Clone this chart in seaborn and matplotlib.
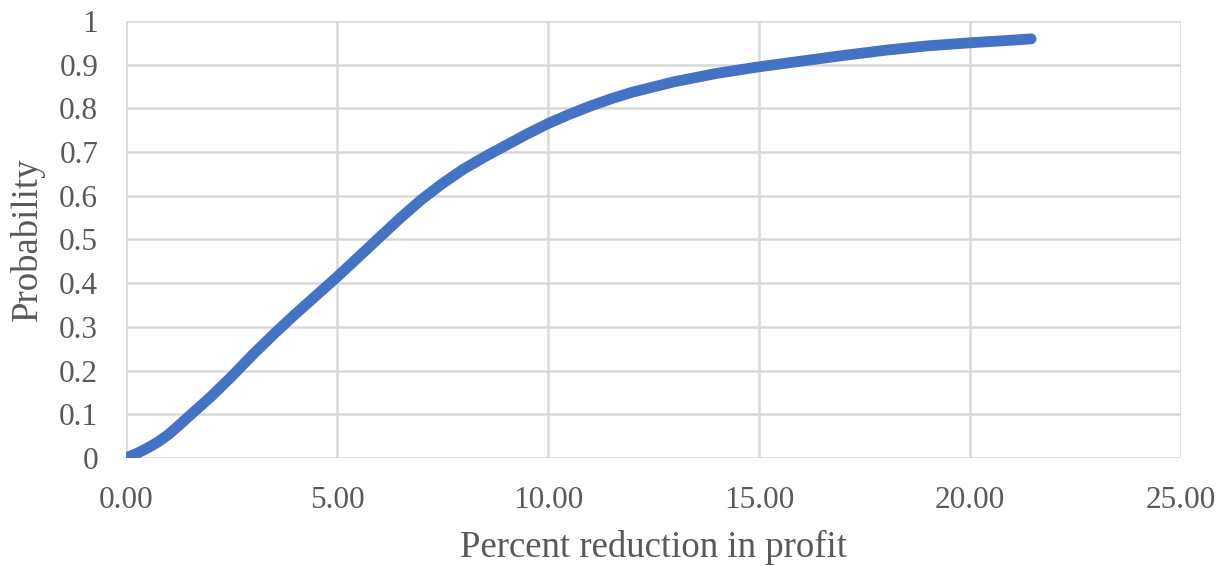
import numpy as np
import pandas as pd
import matplotlib
matplotlib.use("Agg")
import matplotlib.pyplot as plt
import seaborn as sns
from matplotlib.ticker import FuncFormatter

# Courbe de probabilité cumulée
reduction = [0.0, 0.25, 0.5, 0.75, 1.0, 1.25, 1.5, 2.0, 2.5, 3.0, 3.5, 4.0,
             4.5, 5.0, 5.5, 6.0, 6.5, 7.0, 7.5, 8.0, 8.5, 9.0, 9.5, 10.0,
             10.5, 11.0, 11.5, 12.0, 13.0, 14.0, 15.0, 16.0, 17.0, 18.0,
             19.0, 20.0, 21.0, 21.45]
probability = [0.0, 0.01, 0.022, 0.036, 0.053, 0.074, 0.096, 0.139, 0.186,
               0.236, 0.283, 0.328, 0.371, 0.414, 0.459, 0.504, 0.549, 0.591,
               0.628, 0.661, 0.689, 0.715, 0.741, 0.765, 0.786, 0.805, 0.822,
               0.837, 0.861, 0.88, 0.895, 0.908, 0.921, 0.933, 0.943, 0.95,
               0.956, 0.959]
x_ticks = [0, 5, 10, 15, 20, 25]
y_ticks = [0, 0.1, 0.2, 0.3, 0.4, 0.5, 0.6, 0.7, 0.8, 0.9, 1.0]

df = pd.DataFrame({"reduction": reduction, "probability": probability})

sns.set_theme(style="whitegrid")
plt.rcParams["font.family"] = ["Liberation Serif", "DejaVu Serif"]

fig = plt.figure(figsize=(12.21, 5.66), dpi=100)
ax = fig.add_axes([0.1032, 0.191, 0.864, 0.772])

sns.lineplot(data=df, x="reduction", y="probability", ax=ax,
             color="#4472C4", linewidth=7.8, solid_capstyle="round",
             solid_joinstyle="round")

ax.set_xlim(0, 25)
ax.set_ylim(0, 1)
ax.set_xticks(x_ticks)
ax.set_yticks(y_ticks)
ax.xaxis.set_major_formatter(FuncFormatter(lambda v, p: f"{v:.2f}"))
ax.yaxis.set_major_formatter(FuncFormatter(lambda v, p: f"{v:g}"))

ax.grid(True, color="#d9d9d9", linewidth=1.8)
for s in ax.spines.values():
    s.set_visible(False)
ax.tick_params(axis="both", length=0, labelsize=22.5, colors="#595959")
ax.tick_params(axis="y", pad=20)
ax.tick_params(axis="x", pad=20)

ax.set_xlabel("Percent reduction in profit", fontsize=26.5, color="#595959", labelpad=11)
ax.set_ylabel("Probability", fontsize=26.5, color="#595959", labelpad=10)

fig.savefig("out.png", dpi=100)
